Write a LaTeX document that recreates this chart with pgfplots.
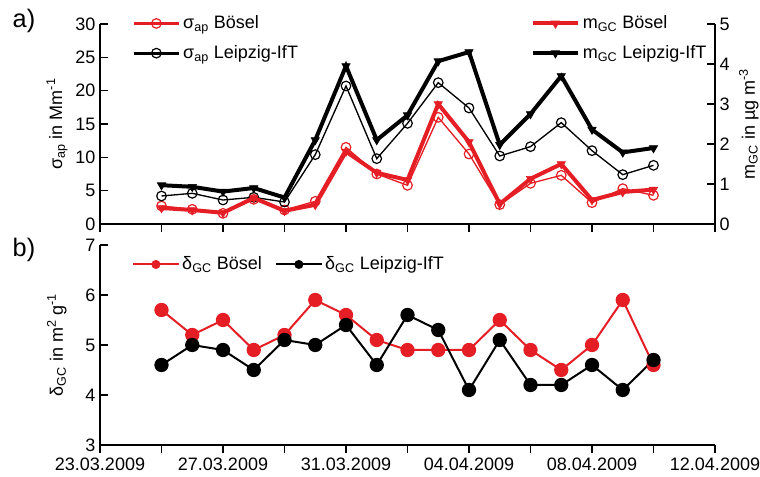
\documentclass[border=0pt]{standalone}
\usepackage{pgfplots}
\pgfplotsset{compat=1.18}
\usepackage{fontspec}
\setmainfont{Liberation Sans}
\definecolor{bred}{RGB}{228,30,36}

% day 0 = 23.03.2009
\pgfplotstableread{
day sB   sL   mB   mL   dB  dL
2   2.7  4.2  0.40 0.97 5.7 4.6
3   2.2  4.6  0.35 0.93 5.2 5.0
4   1.6  3.6  0.28 0.81 5.5 4.9
5   3.7  4.0  0.65 0.90 4.9 4.5
6   2.1  3.3  0.33 0.66 5.2 5.1
7   3.4  10.4 0.48 2.10 5.9 5.0
8   11.5 20.7 1.81 3.95 5.6 5.4
9   7.5  9.8  1.28 2.10 5.1 4.6
10  5.8  15.1 1.10 2.72 4.9 5.6
11  16.0 21.2 3.00 4.07 4.9 5.3
12  10.5 17.4 2.05 4.30 4.9 4.1
13  2.9  10.2 0.50 1.98 5.5 5.1
14  6.1  11.6 1.13 2.75 4.9 4.2
15  7.3  15.2 1.50 3.70 4.5 4.2
16  3.2  11.0 0.60 2.36 5.0 4.6
17  5.3  7.4  0.80 1.79 5.9 4.1
18  4.3  8.8  0.86 1.90 4.6 4.7
}\data

\begin{document}
\begin{tikzpicture}[x=1pt,y=1pt]
\useasboundingbox (0,0) rectangle (570,357.75);
\pgfplotsset{
  every axis/.append style={
    width=461.25pt, height=150pt, scale only axis,
    font=\fontsize{13.5}{15}\selectfont,
    /pgf/number format/assume math mode=true,
    xmin=0, xmax=20,
    axis line style={line width=1.1pt, -},
    every tick/.style={line width=1.1pt, black},
    major tick length=6pt, minor tick length=6pt,
    ytick align=inside, xtick align=outside,
    xtick={0,4,...,20}, minor xtick={2,6,...,18},
    clip=false,
  },
  legend image code/.code={\draw[mark repeat=2,mark phase=2,#1] plot coordinates {(0pt,0pt) (17pt,0pt) (34pt,0pt)};},
}
% panel a) left axis
\begin{axis}[at={(75pt,189.75pt)}, anchor=south west,
  axis x line*=bottom, axis y line*=left,
  ymin=0, ymax=30, ytick={0,5,...,30},
  xticklabels={},
  ylabel={σ\textsubscript{ap} in Mm\textsuperscript{-1}},
  ylabel style={at={(axis description cs:-0.07,0.5)}, anchor=center},
  legend cell align=left,
  legend style={at={(axis description cs:0.052,1.055)}, anchor=north west, draw=none, fill=none,
    row sep=7pt, font=\fontsize{13.5}{15}\selectfont, inner sep=0pt},
  legend image code/.code={\draw[#1, line width=2.2pt] (0pt,0pt) -- (34pt,0pt); \draw[#1, mark repeat=2, mark phase=2] plot coordinates {(0pt,0pt) (17pt,0pt) (34pt,0pt)};},
]
\addplot[bred, line width=1pt, mark=o, mark size=3.6pt, mark options={fill=white, line width=0.9pt}] table[x=day,y=sB] {\data};
\addlegendentry{σ\textsubscript{ap} Bösel}
\addplot[black, line width=1pt, mark=o, mark size=3.6pt, mark options={fill=white, line width=0.9pt}] table[x=day,y=sL] {\data};
\addlegendentry{σ\textsubscript{ap} Leipzig-IfT}
\end{axis}
% panel a) right axis
\begin{axis}[at={(75pt,189.75pt)}, anchor=south west,
  axis x line=none, axis y line*=right,
  ymin=0, ymax=5, ytick={0,1,...,5},
  ylabel={m\textsubscript{GC} in µg m\textsuperscript{-3}},
  ylabel style={at={(axis description cs:1.055,0.5)}, anchor=center},
  legend cell align=left,
  legend style={at={(axis description cs:0.70,1.055)}, anchor=north west, draw=none, fill=none,
    row sep=7pt, font=\fontsize{13.5}{15}\selectfont, inner sep=0pt},
]
\addplot[bred, line width=3pt, mark=triangle*, mark size=3.6pt, mark options={rotate=180, line width=0.5pt}] table[x=day,y=mB] {\data};
\addlegendentry{m\textsubscript{GC} Bösel}
\addplot[black, line width=3pt, mark=triangle*, mark size=3.6pt, mark options={rotate=180, line width=0.5pt}] table[x=day,y=mL] {\data};
\addlegendentry{m\textsubscript{GC} Leipzig-IfT}
\end{axis}
% panel b)
\begin{axis}[at={(75pt,24pt)}, anchor=south west,
  axis x line*=bottom, axis y line*=left,
  ymin=3, ymax=7, ytick={3,4,...,7},
  xticklabels={23.03.2009,27.03.2009,31.03.2009,04.04.2009,08.04.2009,12.04.2009},
  ylabel={δ\textsubscript{GC} in m\textsuperscript{2} g\textsuperscript{-1}},
  ylabel style={at={(axis description cs:-0.07,0.5)}, anchor=center},
  legend columns=2, legend cell align=left,
  legend style={at={(axis description cs:0.052,0.955)}, anchor=north west, draw=none, fill=none,
    font=\fontsize{13.5}{15}\selectfont, inner sep=0pt, /tikz/every even column/.append style={column sep=8pt}},
  legend image code/.code={\draw[mark repeat=2,mark phase=2,#1, mark size=2.6pt] plot coordinates {(0pt,0pt) (17pt,0pt) (34pt,0pt)};},
]
\addplot[bred, line width=1.5pt, mark=*, mark size=4.6pt] table[x=day,y=dB] {\data};
\addlegendentry{δ\textsubscript{GC} Bösel}
\addplot[black, line width=1.5pt, mark=*, mark size=4.6pt] table[x=day,y=dL] {\data};
\addlegendentry{δ\textsubscript{GC} Leipzig-IfT}
\end{axis}
\node[font=\fontsize{19}{21}\selectfont] at (18pt,342pt) {a)};
\node[font=\fontsize{19}{21}\selectfont] at (18pt,170pt) {b)};
\end{tikzpicture}
\end{document}
